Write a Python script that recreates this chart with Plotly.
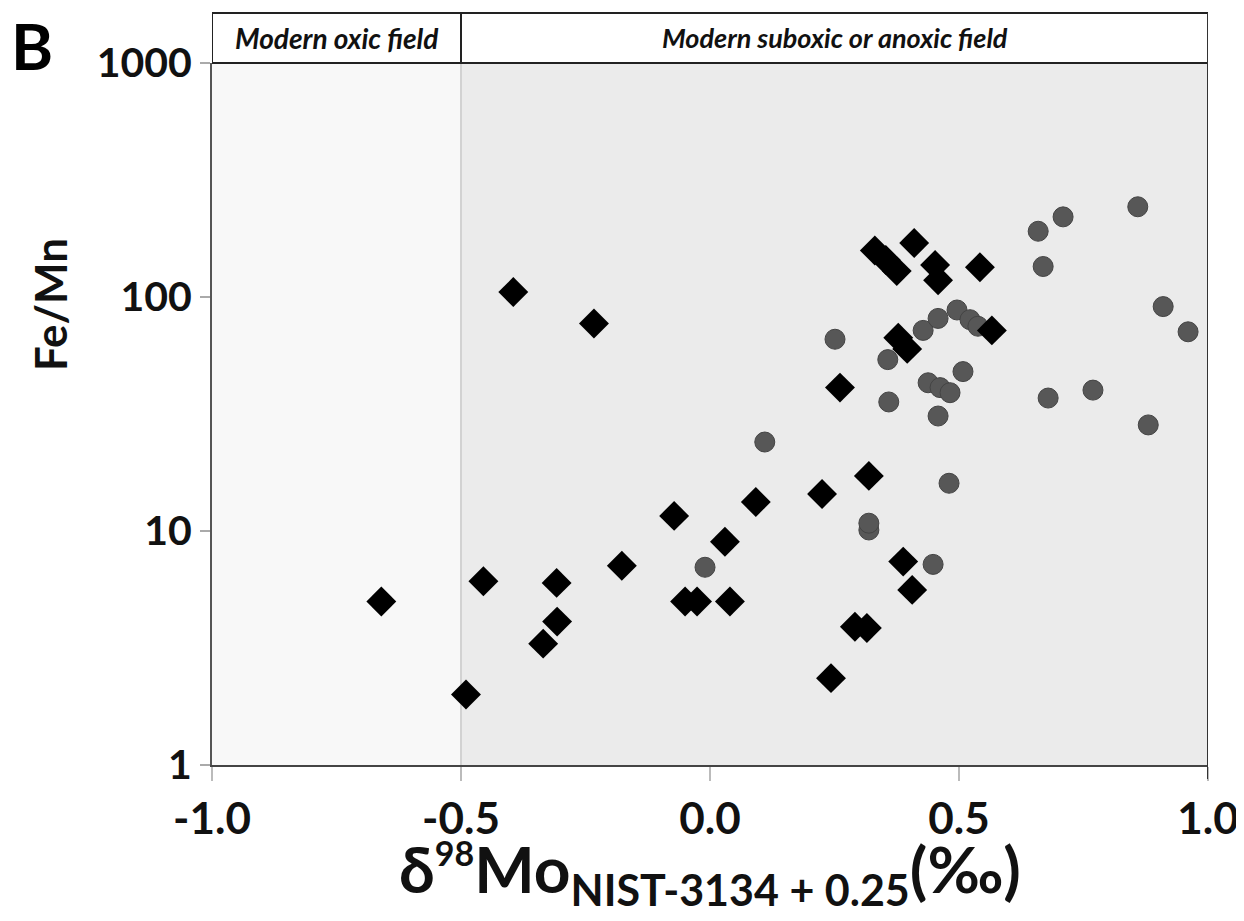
import plotly.graph_objects as go

# Black diamonds: delta98Mo vs Fe/Mn
diamond_x = [-0.66, -0.49, -0.455, -0.395, -0.233, -0.308, -0.307, -0.335, -0.177, -0.072,
             -0.050, -0.026, 0.030, 0.040, 0.092, 0.225, 0.319, 0.261, 0.243, 0.291,
             0.315, 0.388, 0.406, 0.378, 0.396, 0.566, 0.331, 0.353, 0.375, 0.410,
             0.452, 0.458, 0.542]
diamond_y = [5.0, 2.0, 6.1, 105, 77, 6.0, 4.1, 3.3, 7.1, 11.6,
             5.0, 5.0, 9.0, 5.0, 13.3, 14.4, 17.2, 41, 2.35, 3.9,
             3.85, 7.4, 5.6, 67, 60, 72, 158, 144, 129, 170,
             137, 118, 134]

# Grey circles
circle_x = [-0.01, 0.11, 0.251, 0.357, 0.359, 0.319, 0.319, 0.428, 0.458, 0.496,
            0.522, 0.538, 0.508, 0.438, 0.462, 0.482, 0.458, 0.480, 0.448, 0.659,
            0.709, 0.669, 0.859, 0.910, 0.960, 0.679, 0.769, 0.880]
circle_y = [7.0, 24, 66, 54, 35.6, 10.1, 10.8, 72, 81, 88,
            80, 75, 48, 43, 41, 39, 31, 16, 7.2, 191,
            220, 135, 243, 91, 71, 37, 40, 28.4]

x_ticks = [-1.0, -0.5, 0.0, 0.5, 1.0]
x_ticktext = ["-1.0", "-0.5", "0.0", "0.5", "1.0"]
y_ticks = [1, 10, 100, 1000]
y_ticktext = ["1", "10", "100", "1000"]

field_labels = ["Modern oxic field", "Modern suboxic or anoxic field"]
field_bounds = [-1.0, -0.5, 1.0]

FONT = "Lato"

fig = go.Figure()
fig.add_trace(go.Scatter(
    x=circle_x, y=circle_y, mode="markers",
    marker=dict(symbol="circle", size=20, color="#575757",
                line=dict(color="#444444", width=1)),
    showlegend=False))
fig.add_trace(go.Scatter(
    x=diamond_x, y=diamond_y, mode="markers",
    marker=dict(symbol="diamond", size=23, color="#000000", line=dict(width=0)),
    showlegend=False))

H = 1 + 50 / 702  # header top in paper units

shapes = [
    dict(type="rect", xref="x", yref="paper", x0=field_bounds[0], x1=field_bounds[1],
         y0=0, y1=1, fillcolor="#f8f8f8", line=dict(width=0), layer="below"),
    dict(type="rect", xref="x", yref="paper", x0=field_bounds[1], x1=field_bounds[2],
         y0=0, y1=1, fillcolor="#ebebeb", line=dict(width=0), layer="below"),
    dict(type="line", xref="x", yref="paper", x0=-0.5, x1=-0.5, y0=0, y1=1,
         line=dict(color="#d2d2d2", width=2), layer="below"),
    dict(type="rect", xref="x", yref="paper", x0=-1.0, x1=1.0, y0=1, y1=H,
         fillcolor="white", line=dict(color="#222222", width=2)),
    dict(type="line", xref="x", yref="paper", x0=-0.5, x1=-0.5, y0=1, y1=H,
         line=dict(color="#222222", width=2)),
    dict(type="line", xref="x", yref="paper", x0=1.0, x1=1.0, y0=-0.02, y1=H,
         line=dict(color="#333333", width=2)),
]

x_title = ("<b>δ<sup><span style='font-size:34px'>98</span></sup>Mo"
           "<sub><span style='font-size:43px'>NIST-3134 + 0.25</span></sub>(‰)</b>")

annotations = [
    dict(x=(field_bounds[0] + field_bounds[1]) / 2, y=(1 + H) / 2, xref="x", yref="paper",
         xanchor="center", yanchor="middle",
         text="<b><i>" + field_labels[0] + "</i></b>", showarrow=False,
         font=dict(family=FONT, size=28, color="#111111")),
    dict(x=(field_bounds[1] + field_bounds[2]) / 2, y=(1 + H) / 2, xref="x", yref="paper",
         xanchor="center", yanchor="middle",
         text="<b><i>" + field_labels[1] + "</i></b>", showarrow=False,
         font=dict(family=FONT, size=27, color="#111111")),
    dict(x=(32 - 212) / 996, y=(765 - 45) / 702, xref="paper", yref="paper",
         xanchor="center", yanchor="middle",
         text="<b>B</b>", showarrow=False, font=dict(family=FONT, size=64, color="#000000")),
    dict(x=(50 - 212) / 996, y=(765 - 305) / 702, xref="paper", yref="paper",
         xanchor="center", yanchor="middle",
         text="<b>Fe/Mn</b>", textangle=-90, showarrow=False,
         font=dict(family=FONT, size=44, color="#111111")),
    dict(x=(710 - 212) / 996, y=(765 - 873) / 702, xref="paper", yref="paper",
         xanchor="center", yanchor="middle",
         text=x_title, showarrow=False,
         font=dict(family=FONT, size=64, color="#111111")),
]

fig.update_layout(
    width=1236, height=913,
    margin=dict(l=204, r=36, t=55, b=156, autoexpand=False),
    paper_bgcolor="white", plot_bgcolor="white",
    shapes=shapes, annotations=annotations,
    font=dict(family=FONT, color="#111111"),
    xaxis=dict(range=[-1.0, 1.0], tickvals=x_ticks, ticktext=x_ticktext,
               ticks="outside", ticklen=14, tickwidth=2, tickcolor="#bbbbbb",
               showline=True, linecolor="#444444", linewidth=2,
               showgrid=False, zeroline=False,
               tickfont=dict(family=FONT, size=44, color="#111111", weight="bold")),
    yaxis=dict(type="log", range=[0, 3], tickvals=y_ticks, ticktext=y_ticktext,
               ticks="outside", ticklen=10, tickwidth=2, tickcolor="#aaaaaa",
               showline=True, linecolor="#555555", linewidth=2,
               showgrid=False, zeroline=False,
               tickfont=dict(family=FONT, size=41, color="#111111", weight="bold")),
)

fig.write_html("out.html")
